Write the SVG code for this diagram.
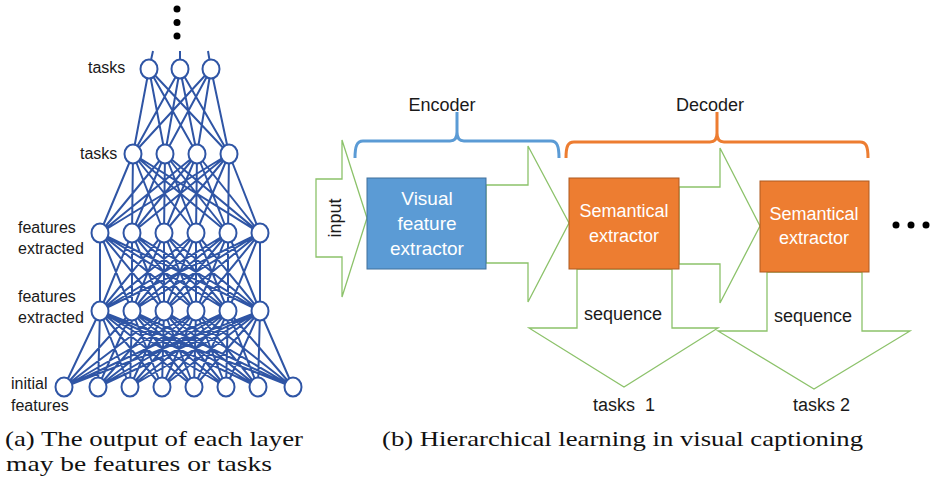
<svg xmlns="http://www.w3.org/2000/svg" width="935" height="480" viewBox="0 0 935 480">
<style>
.net{fill:none;stroke:#2F55A5;stroke-width:2}
.node{fill:#fff;stroke:#2F55A5;stroke-width:2}
.lbl{font-family:"Liberation Sans",Arial,sans-serif;font-size:16px;fill:#1a1a1a}
.t18{font-family:"Liberation Sans",Arial,sans-serif;font-size:18px;fill:#1a1a1a}
.wt{font-family:"Liberation Sans",Arial,sans-serif;font-size:18px;fill:#fff;text-anchor:middle}
.arr{fill:none;stroke:#8CC26A;stroke-width:1.3;stroke-linejoin:miter}
.cap{font-family:"Liberation Serif","Times New Roman",serif;font-size:22px;fill:#111}
.dot{fill:#000}
</style>
<rect width="935" height="480" fill="#fff"/>

<!-- Network connectors -->
<g id="connectors">
<path class="net" d="M149,69L153,51M180,69L180,51M211,69L208,51"/>
<path class="net" d="M149,69L133,154M149,69L165,154M149,69L197,154M149,69L229,154M180,69L133,154M180,69L165,154M180,69L197,154M180,69L229,154M211,69L133,154M211,69L165,154M211,69L197,154M211,69L229,154"/>
<path class="net" d="M133,154L100,233M133,154L132,233M133,154L164,233M133,154L196,233M133,154L228,233M133,154L260,233M165,154L100,233M165,154L132,233M165,154L164,233M165,154L196,233M165,154L228,233M165,154L260,233M197,154L100,233M197,154L132,233M197,154L164,233M197,154L196,233M197,154L228,233M197,154L260,233M229,154L100,233M229,154L132,233M229,154L164,233M229,154L196,233M229,154L228,233M229,154L260,233"/>
<path class="net" d="M100,233L100,311M100,233L132,311M100,233L164,311M100,233L196,311M100,233L228,311M100,233L260,311M132,233L100,311M132,233L132,311M132,233L164,311M132,233L196,311M132,233L228,311M132,233L260,311M164,233L100,311M164,233L132,311M164,233L164,311M164,233L196,311M164,233L228,311M164,233L260,311M196,233L100,311M196,233L132,311M196,233L164,311M196,233L196,311M196,233L228,311M196,233L260,311M228,233L100,311M228,233L132,311M228,233L164,311M228,233L196,311M228,233L228,311M228,233L260,311M260,233L100,311M260,233L132,311M260,233L164,311M260,233L196,311M260,233L228,311M260,233L260,311"/>
<path class="net" d="M100,311L64,387M100,311L98,387M100,311L130,387M100,311L162,387M100,311L194,387M100,311L226,387M100,311L258,387M100,311L293,387M132,311L64,387M132,311L98,387M132,311L130,387M132,311L162,387M132,311L194,387M132,311L226,387M132,311L258,387M132,311L293,387M164,311L64,387M164,311L98,387M164,311L130,387M164,311L162,387M164,311L194,387M164,311L226,387M164,311L258,387M164,311L293,387M196,311L64,387M196,311L98,387M196,311L130,387M196,311L162,387M196,311L194,387M196,311L226,387M196,311L258,387M196,311L293,387M228,311L64,387M228,311L98,387M228,311L130,387M228,311L162,387M228,311L194,387M228,311L226,387M228,311L258,387M228,311L293,387M260,311L64,387M260,311L98,387M260,311L130,387M260,311L162,387M260,311L194,387M260,311L226,387M260,311L258,387M260,311L293,387"/>
<!-- block arrows -->
<polygon class="arr" points="316,179 342,179 342,140 367,218 342,297 342,257 316,257"/>
<polygon class="arr" points="486,185 528,185 528,146 569,223 528,302 528,263 486,263"/>
<polygon class="arr" points="679,187 720,187 720,148 760,226 720,303 720,264 679,264"/>
<polygon class="arr" points="577,269 577,328 529,328 624,387 718,328 672,328 672,269"/>
<polygon class="arr" points="767,272 767,331 718,331 814,389 910,331 862,331 862,272"/>
</g>

<!-- top dots -->
<g id="vdots">
<circle class="dot" cx="177" cy="9" r="3.5"/>
<circle class="dot" cx="177" cy="22.5" r="3.5"/>
<circle class="dot" cx="177" cy="36" r="3.5"/>
</g>

<!-- Layer 1 -->
<g id="n1-1"><ellipse class="node" cx="149" cy="69" rx="8.5" ry="9.5"/></g>
<g id="n1-2"><ellipse class="node" cx="180" cy="69" rx="8.5" ry="9.5"/></g>
<g id="n1-3"><ellipse class="node" cx="211" cy="69" rx="8.5" ry="9.5"/></g>
<!-- Layer 2 -->
<g id="n2-1"><ellipse class="node" cx="133" cy="154" rx="8.5" ry="9.5"/></g>
<g id="n2-2"><ellipse class="node" cx="165" cy="154" rx="8.5" ry="9.5"/></g>
<g id="n2-3"><ellipse class="node" cx="197" cy="154" rx="8.5" ry="9.5"/></g>
<g id="n2-4"><ellipse class="node" cx="229" cy="154" rx="8.5" ry="9.5"/></g>
<!-- Layer 3 -->
<g id="n3-1"><ellipse class="node" cx="100" cy="233" rx="8.5" ry="9.5"/></g>
<g id="n3-2"><ellipse class="node" cx="132" cy="233" rx="8.5" ry="9.5"/></g>
<g id="n3-3"><ellipse class="node" cx="164" cy="233" rx="8.5" ry="9.5"/></g>
<g id="n3-4"><ellipse class="node" cx="196" cy="233" rx="8.5" ry="9.5"/></g>
<g id="n3-5"><ellipse class="node" cx="228" cy="233" rx="8.5" ry="9.5"/></g>
<g id="n3-6"><ellipse class="node" cx="260" cy="233" rx="8.5" ry="9.5"/></g>
<!-- Layer 4 -->
<g id="n4-1"><ellipse class="node" cx="100" cy="311" rx="8.5" ry="9.5"/></g>
<g id="n4-2"><ellipse class="node" cx="132" cy="311" rx="8.5" ry="9.5"/></g>
<g id="n4-3"><ellipse class="node" cx="164" cy="311" rx="8.5" ry="9.5"/></g>
<g id="n4-4"><ellipse class="node" cx="196" cy="311" rx="8.5" ry="9.5"/></g>
<g id="n4-5"><ellipse class="node" cx="228" cy="311" rx="8.5" ry="9.5"/></g>
<g id="n4-6"><ellipse class="node" cx="260" cy="311" rx="8.5" ry="9.5"/></g>
<!-- Layer 5 -->
<g id="n5-1"><ellipse class="node" cx="64" cy="387" rx="8.5" ry="9.5"/></g>
<g id="n5-2"><ellipse class="node" cx="98" cy="387" rx="8.5" ry="9.5"/></g>
<g id="n5-3"><ellipse class="node" cx="130" cy="387" rx="8.5" ry="9.5"/></g>
<g id="n5-4"><ellipse class="node" cx="162" cy="387" rx="8.5" ry="9.5"/></g>
<g id="n5-5"><ellipse class="node" cx="194" cy="387" rx="8.5" ry="9.5"/></g>
<g id="n5-6"><ellipse class="node" cx="226" cy="387" rx="8.5" ry="9.5"/></g>
<g id="n5-7"><ellipse class="node" cx="258" cy="387" rx="8.5" ry="9.5"/></g>
<g id="n5-8"><ellipse class="node" cx="293" cy="387" rx="8.5" ry="9.5"/></g>

<!-- network labels -->
<g id="net-labels">
<text class="lbl" x="88" y="73">tasks</text>
<text class="lbl" x="80" y="159">tasks</text>
<text class="lbl" x="18" y="233">features</text>
<text class="lbl" x="18" y="254">extracted</text>
<text class="lbl" x="18" y="302">features</text>
<text class="lbl" x="18" y="323">extracted</text>
<text class="lbl" x="11" y="389">initial</text>
<text class="lbl" x="11" y="411">features</text>
</g>

<!-- Encoder brace -->
<g id="encoder">
<path d="M355,158 C355,146 357,141 363,141 L450,141 C455,141 457,138 457,132 L457,112 M457,132 C457,138 459,141 464,141 L551,141 C557,141 559,146 559,158" fill="none" stroke="#5B9BD5" stroke-width="3"/>
<text class="t18" x="442" y="111" text-anchor="middle">Encoder</text>
</g>
<!-- Decoder brace -->
<g id="decoder">
<path d="M566,158 C566,146 568,142 574,142 L710,142 C715,142 717,139 717,133 L717,112 M717,133 C717,139 719,142 724,142 L860,142 C866,142 868,146 868,158" fill="none" stroke="#ED7D31" stroke-width="3"/>
<text class="t18" x="710" y="111" text-anchor="middle">Decoder</text>
</g>

<g id="input-label">
<text class="t18" transform="translate(341,218) rotate(-90)" text-anchor="middle">input</text>
</g>

<g id="visual-extractor">
<rect x="367" y="178" width="119" height="91" fill="#5B9BD5" stroke="#41719C" stroke-width="1"/>
<text class="wt" x="427" y="205" style="font-size:19px">Visual</text>
<text class="wt" x="427" y="230" style="font-size:19px">feature</text>
<text class="wt" x="427" y="255" style="font-size:19px">extractor</text>
</g>

<g id="semantic-1">
<rect x="569" y="178" width="110" height="91" fill="#ED7D31" stroke="#AE5A21" stroke-width="1"/>
<text class="wt" x="624" y="217">Semantical</text>
<text class="wt" x="624" y="242">extractor</text>
</g>

<g id="semantic-2">
<rect x="760" y="181" width="109" height="91" fill="#ED7D31" stroke="#AE5A21" stroke-width="1"/>
<text class="wt" x="814" y="220">Semantical</text>
<text class="wt" x="814" y="244">extractor</text>
</g>

<g id="hdots">
<circle class="dot" cx="896" cy="225" r="3.5"/>
<circle class="dot" cx="911" cy="225" r="3.5"/>
<circle class="dot" cx="926" cy="225" r="3.5"/>
</g>

<g id="arrow-labels">
<text class="t18" x="623" y="320" text-anchor="middle">sequence</text>
<text class="t18" x="813" y="322" text-anchor="middle">sequence</text>
<text class="t18" x="593" y="411" xml:space="preserve">tasks  1</text>
<text class="t18" x="793" y="411">tasks 2</text>
</g>

<g id="captions">
<text class="cap" x="5" y="446" textLength="298" lengthAdjust="spacingAndGlyphs">(a) The output of each layer</text>
<text class="cap" x="6" y="471" textLength="266" lengthAdjust="spacingAndGlyphs">may be features or tasks</text>
<text class="cap" x="382" y="446" textLength="481" lengthAdjust="spacingAndGlyphs">(b) Hierarchical learning in visual captioning</text>
</g>
</svg>
